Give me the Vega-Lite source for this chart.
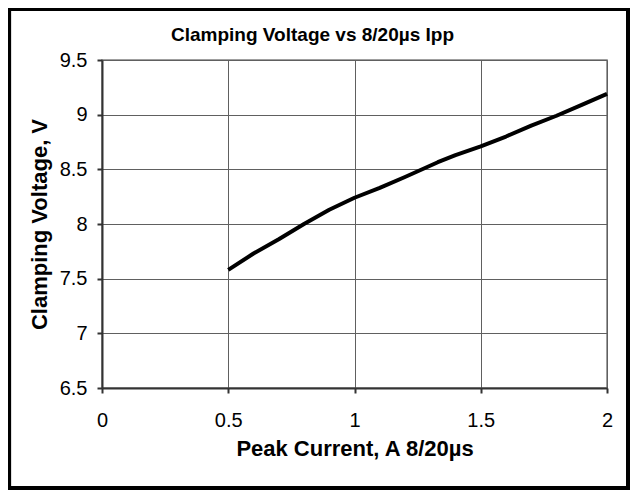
{
  "$schema": "https://vega.github.io/schema/vega-lite/v6.json",
  "width": 505,
  "height": 328,
  "autosize": "none",
  "padding": {"left": 102, "top": 60, "right": 24, "bottom": 102},
  "background": "white",
  "title": {
    "text": "Clamping Voltage vs 8/20µs Ipp",
    "font": "Liberation Sans",
    "fontSize": 19,
    "fontWeight": "bold",
    "color": "black",
    "frame": "group",
    "anchor": "middle",
    "baseline": "alphabetic",
    "offset": -52,
    "dx": -42
  },
  "data": {
    "values": [
      {"current": 0.5, "voltage": 7.58},
      {"current": 0.6, "voltage": 7.73},
      {"current": 0.7, "voltage": 7.86},
      {"current": 0.8, "voltage": 8.0},
      {"current": 0.9, "voltage": 8.13},
      {"current": 1.0, "voltage": 8.24},
      {"current": 1.1, "voltage": 8.33},
      {"current": 1.2, "voltage": 8.43},
      {"current": 1.33, "voltage": 8.565},
      {"current": 1.4, "voltage": 8.63},
      {"current": 1.5, "voltage": 8.71},
      {"current": 1.6, "voltage": 8.8},
      {"current": 1.7, "voltage": 8.9},
      {"current": 1.8, "voltage": 8.99},
      {"current": 1.9, "voltage": 9.09},
      {"current": 2.0, "voltage": 9.19}
    ]
  },
  "layer": [
    {
      "mark": {"type": "rect", "fill": null, "stroke": "black", "strokeWidth": 3, "clip": false},
      "encoding": {
        "x": {"datum": -0.3663, "type": "quantitative", "scale": {"domain": [0, 2], "nice": false, "zero": false}},
        "x2": {"datum": 2.0832},
        "y": {"datum": 9.9619, "type": "quantitative", "scale": {"domain": [6.5, 9.5], "nice": false, "zero": false}},
        "y2": {"datum": 5.5854}
      }
    },
    {
      "mark": {"type": "line", "color": "black", "strokeWidth": 4, "strokeJoin": "round", "strokeCap": "butt"},
      "encoding": {
        "x": {
          "field": "current",
          "type": "quantitative",
          "scale": {"domain": [0, 2], "nice": false, "zero": false},
          "axis": {
            "title": "Peak Current, A 8/20µs",
            "values": [0, 0.5, 1, 1.5, 2],
            "format": "~g",
            "labelPadding": 17,
            "titlePadding": 8
          }
        },
        "y": {
          "field": "voltage",
          "type": "quantitative",
          "scale": {"domain": [6.5, 9.5], "nice": false, "zero": false},
          "axis": {
            "title": "Clamping Voltage, V",
            "values": [6.5, 7, 7.5, 8, 8.5, 9, 9.5],
            "format": "~g",
            "labelPadding": 10,
            "titlePadding": 8
          }
        }
      }
    }
  ],
  "config": {
    "view": {"stroke": "#808080", "strokeWidth": 1.5},
    "axis": {
      "grid": true,
      "gridColor": "#606060",
      "gridWidth": 1,
      "gridOpacity": 1,
      "domainColor": "#333333",
      "domainWidth": 2,
      "tickColor": "#333333",
      "tickWidth": 2,
      "tickSize": 5,
      "labelFont": "Liberation Sans",
      "labelFontSize": 20,
      "labelColor": "black",
      "labelFlush": false,
      "labelOverlap": false,
      "titleFont": "Liberation Sans",
      "titleFontSize": 22,
      "titleFontWeight": "bold",
      "titleColor": "black"
    }
  }
}
